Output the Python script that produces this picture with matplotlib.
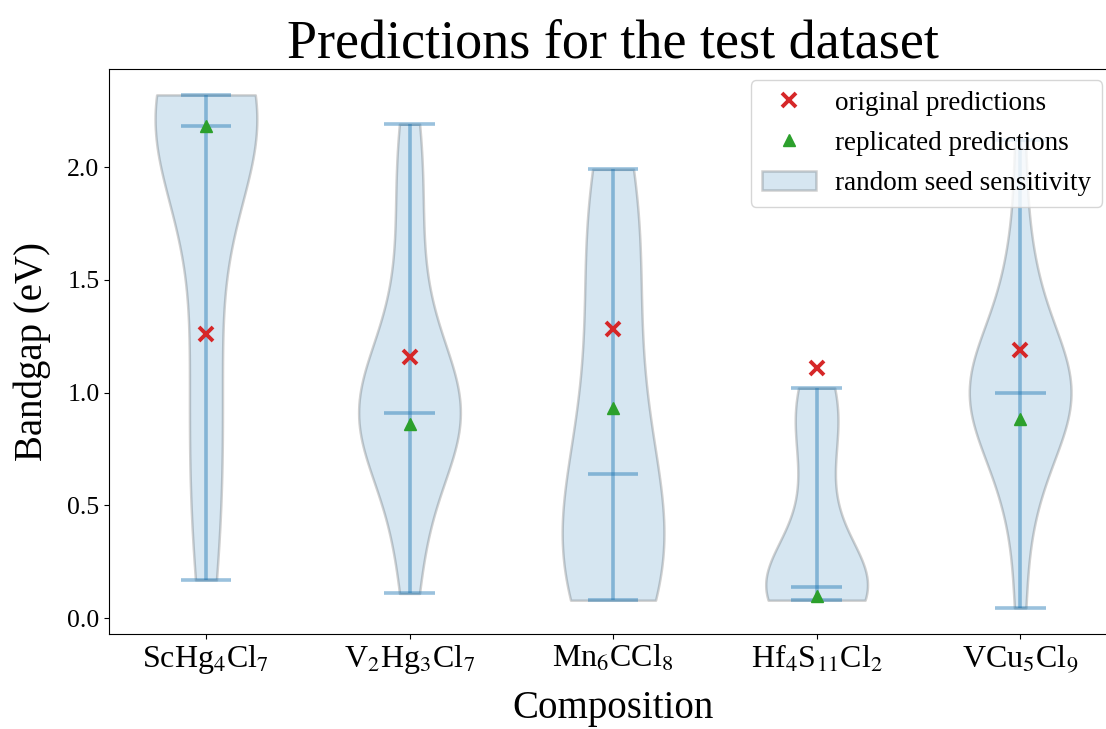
import matplotlib
matplotlib.use('Agg')
import matplotlib.pyplot as plt

plt.rcParams['font.family'] = ['Liberation Serif', 'DejaVu Serif']
plt.rcParams['mathtext.fontset'] = 'stix'

compositions = [r'ScHg$_4$Cl$_7$', r'V$_2$Hg$_3$Cl$_7$', r'Mn$_6$CCl$_8$',
                r'Hf$_4$S$_{11}$Cl$_2$', r'VCu$_5$Cl$_9$']

# bandgaps from different random seeds (eV)
seeds_schg = [0.17, 0.40, 0.62, 0.85, 1.08, 1.30, 1.55,
              2.12, 2.15, 2.17, 2.19, 2.20, 2.22, 2.24, 2.26, 2.28, 2.29, 2.30, 2.31, 2.32]
seeds_vhg = [0.11, 0.30, 0.50, 0.65, 0.76, 0.84, 0.88, 0.90, 0.90, 0.91, 0.91,
             0.91, 0.93, 0.97, 1.05, 1.15, 1.28, 1.42, 1.65, 1.88, 2.05, 2.19]
seeds_mnc = [0.08, 0.10, 0.14, 0.20, 0.27, 0.35, 0.45, 0.60,
             0.68, 0.85, 1.05, 1.28, 1.50, 1.72, 1.88, 1.99]
seeds_hfs = [0.08, 0.085, 0.09, 0.10, 0.11, 0.12, 0.13, 0.14, 0.14, 0.14,
             0.24, 0.33, 0.45, 0.60, 0.76, 0.87, 0.94, 0.98, 1.02]
seeds_vcu = [0.046, 0.45, 0.60, 0.72, 0.80, 0.86, 0.92, 0.96, 0.99, 1.00,
             1.00, 1.03, 1.07, 1.12, 1.18, 1.25, 1.35, 1.50, 1.70, 2.12]

original = [1.26, 1.16, 1.28, 1.11, 1.19]
replicated = [2.18, 0.86, 0.93, 0.10, 0.885]

seeds = [seeds_schg, seeds_vhg, seeds_mnc, seeds_hfs, seeds_vcu]
pos = [1, 2, 3, 4, 5]

fig = plt.figure(figsize=(11.06, 7.29), dpi=100)
ax = fig.add_axes([0.0988, 0.131, 0.911, 0.774])

vp = ax.violinplot(seeds, positions=pos, showmedians=True)
for b in vp['bodies']:
    b.set_facecolor('C0')
    b.set_edgecolor('black')
    b.set_alpha(0.18)
    b.set_linewidth(1.8)
for k in ['cbars', 'cmins', 'cmaxes', 'cmedians']:
    vp[k].set_color('C0')
    vp[k].set_alpha(0.45)
    vp[k].set_linewidth(2.6)

ax.plot(pos, original, 'x', color='#d62728', markersize=10, mew=2.8, label='original predictions')
ax.plot(pos, replicated, '^', color='#2ca02c', markersize=9, label='replicated predictions')

handles, labels = ax.get_legend_handles_labels()
handles.append(vp['bodies'][0])
labels.append('random seed sensitivity')
ax.legend(handles, labels, loc='upper right', fontsize=19.5, borderaxespad=0.4,
          labelspacing=0.55, handletextpad=0.7, bbox_to_anchor=(0.996, 1.0))

ax.set_xticks(pos)
ax.set_xticklabels(compositions)
ax.tick_params(axis='y', labelsize=18.5)
ax.tick_params(axis='x', labelsize=23)
ax.set_xlabel('Composition', fontsize=28, labelpad=10)
ax.set_ylabel('Bandgap (eV)', fontsize=28, labelpad=12)
ax.set_title('Predictions for the test dataset', fontsize=39)

fig.savefig('out.png', dpi=100)
